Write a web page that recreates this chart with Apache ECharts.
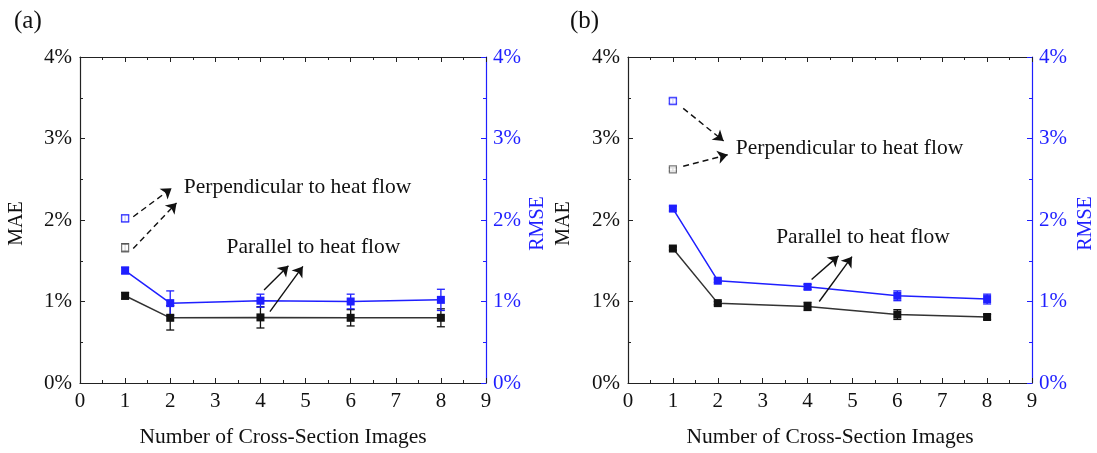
<!DOCTYPE html>
<html>
<head>
<meta charset="utf-8">
<script src="https://cdn.jsdelivr.net/npm/echarts@6/dist/echarts.min.js"></script>
<style>html,body{margin:0;padding:0;background:#fff}#c{width:1097px;height:453px}</style>
</head>
<body>
<div id="c"></div>
<script>
// ---- data ----
const xValues = [1, 2, 4, 6, 8];
const xTicks = [0, 1, 2, 3, 4, 5, 6, 7, 8, 9];
const yTicks = ['0%', '1%', '2%', '3%', '4%'];

// panel (a)
const maeParallelA = [1.07, 0.80, 0.805, 0.80, 0.80];
const maeParallelErrA = [0.04, 0.15, 0.13, 0.10, 0.11];
const rmseParallelA = [1.38, 0.98, 1.01, 1.00, 1.02];
const rmseParallelErrA = [0.04, 0.15, 0.08, 0.09, 0.13];
const maePerpA = [1.66];
const maePerpErrA = [0.05];
const rmsePerpA = [2.02];
const rmsePerpErrA = [0.04];

// panel (b)
const maeParallelB = [1.65, 0.98, 0.94, 0.84, 0.81];
const maeParallelErrB = [0.02, 0.02, 0.05, 0.06, 0.03];
const rmseParallelB = [2.14, 1.255, 1.18, 1.07, 1.03];
const rmseParallelErrB = [0.03, 0.02, 0.03, 0.06, 0.06];
const maePerpB = [2.62];
const maePerpErrB = [0.02];
const rmsePerpB = [3.46];
const rmsePerpErrB = [0.03];

// ---- style ----
const FONT = 'Liberation Serif';
const BLUE = '#1f1fff';
const BLACK = '#111';
const LINEBLACK = '#333';

const chart = echarts.init(document.getElementById('c'));

function pairs(xs, ys) { return ys.map((v, i) => [xs[i], v]); }
function errData(xs, ys, es) { return ys.map((v, i) => [xs[i], v - es[i], v + es[i]]); }

function errSeries(xi, yi, data, color) {
  return {
    type: 'custom', xAxisIndex: xi, yAxisIndex: yi, data: data, z: 3, silent: true,
    renderItem: function (params, api) {
      const x = api.value(0);
      const p1 = api.coord([x, api.value(1)]);
      const p2 = api.coord([x, api.value(2)]);
      const w = 4;
      const st = { stroke: color, lineWidth: 1.3 };
      return { type: 'group', children: [
        { type: 'line', shape: { x1: p1[0], y1: p1[1], x2: p2[0], y2: p2[1] }, style: st },
        { type: 'line', shape: { x1: p1[0] - w, y1: p1[1], x2: p1[0] + w, y2: p1[1] }, style: st },
        { type: 'line', shape: { x1: p2[0] - w, y1: p2[1], x2: p2[0] + w, y2: p2[1] }, style: st }
      ]};
    }
  };
}

function xAxes(gi) {
  const common = {
    type: 'value', gridIndex: gi, min: 0, max: 9, interval: 1,
    axisLine: { show: true, onZero: false, lineStyle: { color: '#222', width: 1.2 } },
    axisTick: { show: true, inside: true, length: 5, lineStyle: { color: '#222' } },
    minorTick: { show: true, splitNumber: 2, length: 3, lineStyle: { color: '#222' } },
    splitLine: { show: false }
  };
  return [
    Object.assign({}, common, {
      position: 'bottom',
      name: 'Number of Cross-Section Images', nameLocation: 'middle', nameGap: 43,
      nameTextStyle: { fontFamily: FONT, fontSize: 21.5, color: '#111' },
      axisLabel: { fontFamily: FONT, fontSize: 21, color: '#111', margin: 8,
        formatter: v => String(xTicks[v]) }
    }),
    Object.assign({}, common, { position: 'top', axisLabel: { show: false } })
  ];
}

function yAxes(gi, leftGap, rightGap) {
  const common = {
    type: 'value', gridIndex: gi, min: 0, max: 4, interval: 1,
    splitLine: { show: false },
    nameLocation: 'middle', nameRotate: 90
  };
  return [
    Object.assign({}, common, {
      position: 'left', name: 'MAE', nameGap: leftGap,
      nameTextStyle: { fontFamily: FONT, fontSize: 20, color: '#111', padding: [0, 7, 0, 0] },
      axisLine: { show: true, onZero: false, lineStyle: { color: '#222', width: 1.2 } },
      axisTick: { show: true, inside: true, length: 5, lineStyle: { color: '#222' } },
      minorTick: { show: true, splitNumber: 2, length: 3, lineStyle: { color: '#222' } },
      axisLabel: { fontFamily: FONT, fontSize: 21, color: '#111', margin: 8, formatter: v => yTicks[v] }
    }),
    Object.assign({}, common, {
      position: 'right', name: 'RMSE', nameGap: rightGap,
      nameTextStyle: { fontFamily: FONT, fontSize: 20, color: BLUE, padding: [0, 7, 0, 0] },
      axisLine: { show: true, onZero: false, lineStyle: { color: BLUE, width: 1.2 } },
      axisTick: { show: true, inside: true, length: 5, lineStyle: { color: BLUE } },
      minorTick: { show: true, splitNumber: 2, length: 3, lineStyle: { color: BLUE } },
      axisLabel: { fontFamily: FONT, fontSize: 21, color: BLUE, margin: 7, formatter: v => yTicks[v] }
    })
  ];
}

// annotation positions (data coordinates)
const notes = {
  a: {
    perpArrows: [[[1.18, 2.04], [2.03, 2.39]], [[1.18, 1.65], [2.14, 2.21]]],
    parArrows: [[[4.08, 1.14], [4.62, 1.44]], [[4.21, 0.875], [4.94, 1.43]]],
    perpText: [2.3, 2.40], parText: [3.25, 1.66]
  },
  b: {
    perpArrows: [[[1.23, 3.37], [2.13, 2.97]], [[1.23, 2.66], [2.22, 2.80]]],
    parArrows: [[[4.09, 1.27], [4.69, 1.56]], [[4.26, 1.00], [4.99, 1.55]]],
    perpText: [2.4, 2.88], parText: [3.3, 1.79]
  }
};

function annoSeries(xi, yi, n) {
  const arrow = (seg, dashed) => [
    { coord: seg[0], lineStyle: { type: dashed ? [6, 4] : 'solid', color: '#111', width: 1.4 } },
    { coord: seg[1] }
  ];
  const text = (pos, str) => ({
    coord: pos, symbol: 'circle', symbolSize: 0,
    label: { show: true, position: 'right', distance: 0, formatter: str,
      fontFamily: FONT, fontSize: 21.5, color: '#111' }
  });
  return {
    type: 'line', xAxisIndex: xi, yAxisIndex: yi, data: [], silent: true,
    color: '#111',
    markLine: {
      silent: true, symbol: ['none', 'arrow'], symbolSize: 10, label: { show: false },
      animation: false,
      itemStyle: { color: '#111' },
      lineStyle: { color: '#111', width: 1.4 },
      emphasis: { disabled: true },
      data: n.perpArrows.map(s => arrow(s, true)).concat(n.parArrows.map(s => arrow(s, false)))
    },
    markPoint: {
      silent: true, animation: false,
      data: [text(n.perpText, 'Perpendicular to heat flow'), text(n.parText, 'Parallel to heat flow')]
    }
  };
}

function panelSeries(xi, yiL, yiR, d, n) {
  return [
    errSeries(xi, yiL, errData(xValues, d.maePar, d.maeParErr), BLACK),
    errSeries(xi, yiR, errData(xValues, d.rmsePar, d.rmseParErr), BLUE),
    errSeries(xi, yiL, errData([1], d.maePerp, d.maePerpErr), '#555'),
    errSeries(xi, yiR, errData([1], d.rmsePerp, d.rmsePerpErr), BLUE),
    { type: 'line', xAxisIndex: xi, yAxisIndex: yiL, data: pairs(xValues, d.maePar),
      symbol: 'rect', symbolSize: 8, z: 4, itemStyle: { color: BLACK },
      lineStyle: { color: LINEBLACK, width: 1.5 } },
    { type: 'line', xAxisIndex: xi, yAxisIndex: yiR, data: pairs(xValues, d.rmsePar),
      symbol: 'rect', symbolSize: 8, z: 4, itemStyle: { color: BLUE },
      lineStyle: { color: BLUE, width: 1.5 } },
    { type: 'scatter', xAxisIndex: xi, yAxisIndex: yiL, data: pairs([1], d.maePerp),
      symbol: 'rect', symbolSize: 7, z: 4, itemStyle: { color: '#fff', borderColor: '#555', borderWidth: 1.2 } },
    { type: 'scatter', xAxisIndex: xi, yAxisIndex: yiR, data: pairs([1], d.rmsePerp),
      symbol: 'rect', symbolSize: 7, z: 4, itemStyle: { color: '#fff', borderColor: BLUE, borderWidth: 1.4 } },
    annoSeries(xi, yiL, n)
  ];
}

const option = {
  animation: false,
  backgroundColor: '#fff',
  title: [
    { text: '(a)', left: 9, top: 4, textStyle: { fontFamily: FONT, fontSize: 25, fontWeight: 'normal', color: '#111' } },
    { text: '(b)', left: 565, top: 4, textStyle: { fontFamily: FONT, fontSize: 25, fontWeight: 'normal', color: '#111' } }
  ],
  grid: [
    { left: 80, right: 611, top: 57, bottom: 70 },
    { left: 628, right: 65, top: 57, bottom: 70 }
  ],
  xAxis: xAxes(0).concat(xAxes(1)),
  yAxis: yAxes(0, 53, 42).concat(yAxes(1, 54, 44)),
  series: panelSeries(0, 0, 1, {
      maePar: maeParallelA, maeParErr: maeParallelErrA, rmsePar: rmseParallelA, rmseParErr: rmseParallelErrA,
      maePerp: maePerpA, maePerpErr: maePerpErrA, rmsePerp: rmsePerpA, rmsePerpErr: rmsePerpErrA
    }, notes.a).concat(panelSeries(2, 2, 3, {
      maePar: maeParallelB, maeParErr: maeParallelErrB, rmsePar: rmseParallelB, rmseParErr: rmseParallelErrB,
      maePerp: maePerpB, maePerpErr: maePerpErrB, rmsePerp: rmsePerpB, rmsePerpErr: rmsePerpErrB
    }, notes.b))
};
chart.setOption(option);
</script>
</body>
</html>
